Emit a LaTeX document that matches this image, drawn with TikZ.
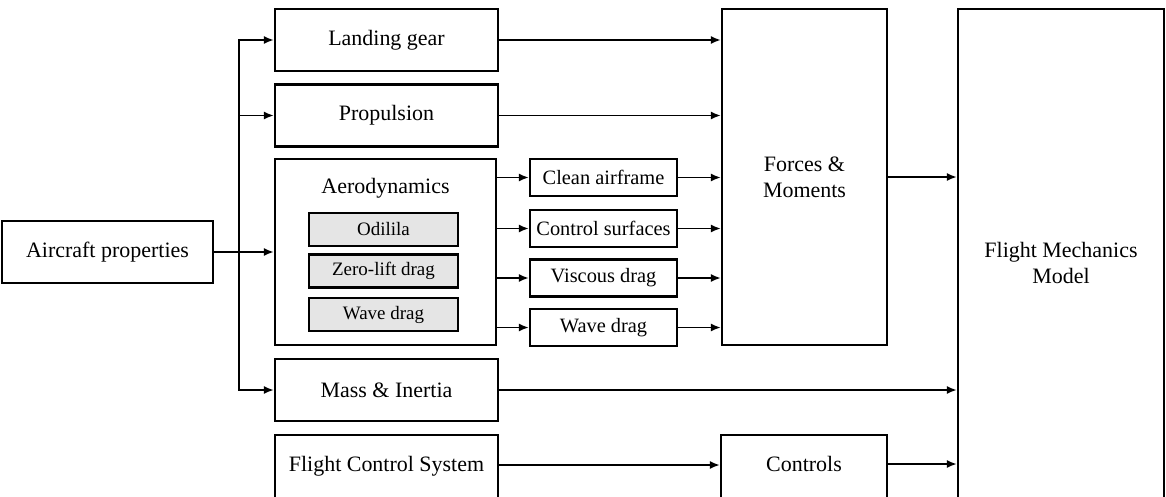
\documentclass[tikz,border=0pt]{standalone}
\usepackage{fontspec}
\setmainfont{Liberation Serif}
\usetikzlibrary{arrows.meta}
\begin{document}
\begin{tikzpicture}[
  box/.style={draw,line width=1.2pt,inner sep=0pt,align=center,font=\fontsize{12.5}{15}\selectfont,minimum height=1.24cm},
  mainbox/.style={box,minimum width=4.46cm},
  cutbox/.style={minimum height=1.4cm,text depth=0.24cm},
  subbox/.style={draw,line width=1.2pt,inner sep=0pt,fill=gray!20,minimum width=2.98cm,minimum height=0.66cm,font=\fontsize{10.8}{13}\selectfont},
  partbox/.style={draw,line width=1.2pt,inner sep=0pt,minimum width=2.94cm,minimum height=0.74cm,font=\fontsize{11.6}{14}\selectfont},
  arr/.style={line width=1.1pt,-{Latex[length=2mm,width=1.6mm]}}]
\useasboundingbox (0,0) rectangle (23.32,-9.92);
\node[box,minimum width=4.22cm] (props) at (2.15,-5.04) {Aircraft properties};
\node[mainbox] (landing) at (7.73,-0.80) {Landing gear};
\node[mainbox] (prop) at (7.73,-2.31) {Propulsion};
\node[mainbox,minimum width=4.42cm,minimum height=3.72cm] (aero) at (7.71,-5.04) {};
\node[font=\fontsize{12.5}{15}\selectfont] (aerolabel) at (7.71,-3.76) {Aerodynamics};
\node[subbox] (odilila) at (7.67,-4.59) {Odilila};
\node[subbox] (zerolift) at (7.67,-5.42) {Zero-lift drag};
\node[subbox] (wavesub) at (7.67,-6.29) {Wave drag};
\node[mainbox] (mass) at (7.73,-7.80) {Mass \& Inertia};
\node[mainbox,cutbox] (fcs) at (7.73,-9.40) {Flight Control System};
\node[partbox] (clean) at (12.07,-3.55) {Clean airframe};
\node[partbox] (surf) at (12.07,-4.57) {Control surfaces};
\node[partbox] (visc) at (12.07,-5.56) {Viscous drag};
\node[partbox] (wave) at (12.07,-6.55) {Wave drag};
\node[box,minimum width=3.30cm,minimum height=6.72cm] (forces) at (16.09,-3.54) {Forces \&\\Moments};
\node[box,cutbox,minimum width=3.32cm] (controls) at (16.08,-9.40) {Controls};
\node[box,minimum width=4.12cm,minimum height=10.16cm] (fmm) at (21.22,-5.26) {Flight Mechanics\\Model};
\coordinate (bus) at (4.78,-5.04);
% inputs
\draw[arr] (props) -- (aero);
\draw[arr] (bus) |- (landing);
\draw[arr] (bus) |- (prop);
\draw[arr] (bus) |- (mass);
% aerodynamics parts
\foreach \p in {clean,surf,visc,wave} {
  \draw[arr] (aero.east |- \p) -- (\p);
  \draw[arr] (\p) -- (\p -| forces.west);
}
\draw[arr] (landing) -- (landing -| forces.west);
\draw[arr] (prop) -- (prop -| forces.west);
% outputs
\draw[arr] (forces) -- (forces -| fmm.west);
\draw[arr] (mass) -- (mass -| fmm.west);
\draw[arr] (fcs.east |- 0,-9.30) -- (controls.west |- 0,-9.30);
\draw[arr] (controls.east |- 0,-9.28) -- (fmm.west |- 0,-9.28);
\end{tikzpicture}
\end{document}
